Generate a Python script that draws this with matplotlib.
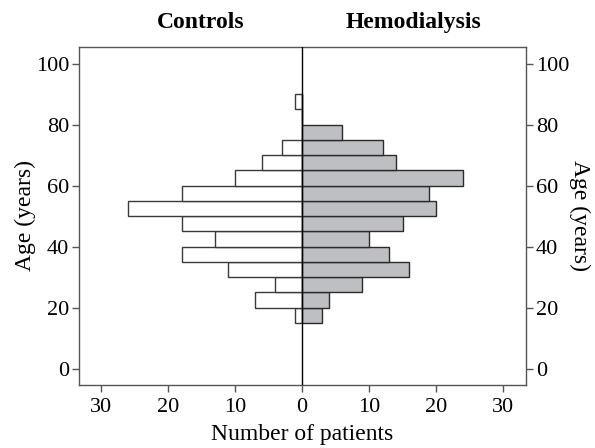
import numpy as np
import matplotlib.pyplot as plt

# 5-year age bins (lower edge), bottom to top
age_bins = [15, 20, 25, 30, 35, 40, 45, 50, 55, 60, 65, 70, 75, 80, 85]
controls = [1, 7, 4, 11, 18, 13, 18, 26, 18, 10, 6, 3, 0, 0, 1]
hemodialysis = [3, 4, 9, 16, 13, 10, 15, 20, 19, 24, 14, 12, 6, 0, 0]

x_ticks = [-30, -20, -10, 0, 10, 20, 30]
y_ticks = [0, 20, 40, 60, 80, 100]

plt.rcParams['font.family'] = ['Liberation Serif', 'DejaVu Serif']

fig = plt.figure(figsize=(5.95, 4.48), dpi=100)
ax = fig.add_axes([0.1328, 0.1415, 0.7512, 0.7545])

bw = 5
y = np.array(age_bins)
ax.barh(y, -np.array(controls), height=bw, align='edge', left=0,
        color='white', edgecolor='#3a3a3a', linewidth=1.0)
ax.barh(y, hemodialysis, height=bw, align='edge', left=0,
        color='#bebfc3', edgecolor='#2a2a2a', linewidth=1.0)
ax.axvline(0, color='black', lw=1.0, zorder=3)

ax.set_xlim(-33.3, 33.4)
ax.set_ylim(-5.2, 105.6)
ax.set_xticks(x_ticks)
ax.set_xticklabels([str(abs(t)) for t in x_ticks])
ax.set_yticks(y_ticks)

for s in ax.spines.values():
    s.set_color('#555555')
    s.set_linewidth(1.0)
ax.tick_params(axis='both', direction='out', length=5, width=1.0,
               color='#555555', labelsize=16, pad=2)
ax.tick_params(axis='x', pad=5)
ax.tick_params(axis='y', right=True, labelright=True)

ax.set_xlabel('Number of patients', fontsize=17, labelpad=5)
ax.set_ylabel('Age (years)', fontsize=17, labelpad=0)
ax.text(1.12, 0.5, 'Age (years)', transform=ax.transAxes, rotation=-90,
        ha='center', va='center', fontsize=17)

ax.text(-15.2, 1.072, 'Controls', transform=ax.get_xaxis_transform(),
        ha='center', va='center', fontsize=17, fontweight='bold')
ax.text(16.6, 1.072, 'Hemodialysis', transform=ax.get_xaxis_transform(),
        ha='center', va='center', fontsize=17, fontweight='bold')

fig.savefig('out.png', dpi=100)
